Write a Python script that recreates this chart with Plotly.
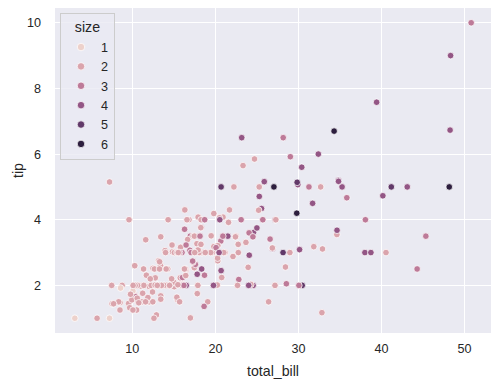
import numpy as np
import plotly.graph_objects as go

total_bill = [16.99,10.34,21.01,23.68,24.59,25.29,8.77,26.88,15.04,14.78,10.27,35.26,15.42,18.43,14.83,21.58,10.33,16.29,16.97,20.65,
17.92,20.29,15.77,39.42,19.82,17.81,13.37,12.69,21.70,19.65,9.55,18.35,15.06,20.69,17.78,24.06,16.31,16.93,18.69,31.27,
16.04,17.46,13.94,9.68,30.40,18.29,22.23,32.40,28.55,18.04,12.54,10.29,34.81,9.94,25.56,19.49,38.01,26.41,11.24,48.27,
20.29,13.81,11.02,18.29,17.59,20.08,16.45,3.07,20.23,15.01,12.02,17.07,26.86,25.28,14.73,10.51,17.92,27.20,22.76,17.29,
19.44,16.66,10.07,32.68,15.98,34.83,13.03,18.28,24.71,21.16,28.97,22.49,5.75,16.32,22.75,40.17,27.28,12.03,21.01,12.46,
11.35,15.38,44.30,22.42,20.92,15.36,20.49,25.21,18.24,14.31,14.00,7.25,38.07,23.95,25.71,17.31,29.93,10.65,12.43,24.08,
11.69,13.42,14.26,15.95,12.48,29.80,8.52,14.52,11.38,22.82,19.08,20.27,11.17,12.26,18.26,8.51,10.33,14.15,16.00,13.16,
17.47,34.30,41.19,27.05,16.43,8.35,18.64,11.87,9.78,7.51,14.07,13.13,17.26,24.55,19.77,29.85,48.17,25.00,13.39,16.49,
21.50,12.66,16.21,13.81,17.51,24.52,20.76,31.71,10.59,10.63,50.81,15.81,7.25,31.85,16.82,32.90,17.89,14.48,9.60,34.63,
34.65,23.33,45.35,23.17,40.55,20.69,20.90,30.46,18.15,23.10,15.69,19.81,28.44,15.48,16.58,7.56,10.34,43.11,13.00,13.51,
18.71,12.74,13.00,16.40,20.53,16.47,26.59,38.73,24.27,12.76,30.06,25.89,48.33,13.27,28.17,12.90,28.15,11.59,7.74,30.14,
12.16,13.42,8.58,15.98,13.42,16.27,10.09,20.45,13.28,22.12,24.01,15.69,11.61,10.77,15.53,10.07,12.60,32.83,35.83,29.03,
27.18,22.67,17.82,18.78]

tip = [1.01,1.66,3.50,3.31,3.61,4.71,2.00,3.12,1.96,3.23,1.71,5.00,1.57,3.00,3.02,3.92,1.67,3.71,3.50,3.35,
4.08,2.75,2.23,7.58,3.18,2.34,2.00,2.00,4.30,3.00,1.45,2.50,3.00,2.45,3.27,3.60,2.00,3.07,2.31,5.00,
2.24,2.54,3.06,1.32,5.60,3.00,5.00,6.00,2.05,3.00,2.50,2.60,5.20,1.56,4.34,3.51,3.00,1.50,1.76,6.73,
3.21,2.00,1.98,3.76,2.64,3.15,2.47,1.00,2.01,2.09,1.97,3.00,3.14,5.00,2.20,1.25,3.08,4.00,3.00,2.71,
3.00,3.40,1.83,5.00,2.03,5.17,2.00,4.00,5.85,3.00,3.00,3.50,1.00,4.30,3.25,4.73,4.00,1.50,3.00,1.50,
2.50,3.00,2.50,3.48,4.08,1.64,4.06,4.29,3.76,4.00,3.00,1.00,4.00,2.55,4.00,3.50,5.07,1.50,1.80,2.92,
2.31,1.68,2.50,2.00,2.52,4.20,1.48,2.00,2.00,2.18,1.50,2.83,1.50,2.00,3.25,1.25,2.00,2.00,2.00,2.75,
3.50,6.70,5.00,5.00,2.30,1.50,1.36,1.63,1.73,2.00,2.50,2.00,2.74,2.00,2.00,5.14,5.00,3.75,2.61,2.00,
3.50,2.50,2.00,2.00,3.00,3.48,2.24,4.50,1.61,2.00,10.00,3.16,5.15,3.18,4.00,3.11,2.00,2.00,4.00,3.55,
3.68,5.65,3.50,6.50,3.00,5.00,3.50,2.00,3.50,4.00,1.50,4.19,2.56,2.02,4.00,1.44,2.00,5.00,2.00,2.00,
4.00,2.01,2.00,2.50,4.00,3.23,3.41,3.00,2.03,2.23,2.00,5.16,9.00,2.50,6.50,1.10,3.00,1.50,1.44,3.09,
2.20,3.48,1.92,3.00,1.58,2.50,2.00,3.00,2.72,2.88,2.00,3.00,3.39,1.47,3.00,1.25,1.00,1.17,4.67,5.92,
2.00,2.00,1.75,3.00]

size = [2,3,3,2,4,4,2,4,2,2,2,4,2,4,2,2,3,3,3,3,
2,2,2,4,2,4,2,2,2,2,2,4,2,4,2,3,3,3,3,3,
3,2,2,2,4,2,2,4,3,2,2,2,4,2,4,2,4,2,2,4,
2,2,2,4,3,3,2,1,2,2,2,3,2,2,2,2,2,4,2,2,
2,2,1,2,2,4,2,2,2,2,2,2,2,2,2,4,2,2,2,2,
2,2,3,2,2,2,2,2,2,2,2,1,3,2,3,2,4,2,2,4,
2,2,2,2,2,6,2,2,2,3,2,2,2,2,2,2,2,2,2,2,
2,6,5,6,2,2,3,2,2,2,2,2,3,4,4,5,6,4,2,4,
4,2,3,2,2,3,2,4,2,2,3,2,2,2,2,2,2,2,2,2,
4,2,3,4,2,5,3,5,3,3,2,2,2,2,2,2,2,4,2,2,
3,2,2,2,4,3,3,4,2,2,3,4,4,2,3,2,5,2,2,4,
2,2,1,3,2,2,2,4,2,2,4,3,2,2,2,2,2,2,3,3,
2,2,2,2]

size_levels = [1, 2, 3, 4, 5, 6]
x_ticks = [10, 20, 30, 40, 50]
y_ticks = [2, 4, 6, 8, 10]


def cubehelix_color(v, vmin=1, vmax=6, light=0.85, dark=0.15,
                    start=0.0, rot=0.4, gamma=1.0, hue=0.8):
    t = (v - vmin) / (vmax - vmin)
    lam = light + (dark - light) * t
    xg = lam ** gamma
    a = hue * xg * (1 - xg) / 2
    phi = 2 * np.pi * (start / 3 + rot * lam)
    r = xg + a * (-0.14861 * np.cos(phi) + 1.78277 * np.sin(phi))
    g = xg + a * (-0.29227 * np.cos(phi) - 0.90649 * np.sin(phi))
    b = xg + a * (1.97294 * np.cos(phi))
    c = [int(round(min(max(k, 0), 1) * 255)) for k in (r, g, b)]
    return "rgb({},{},{})".format(*c)


FONT = "Arial, Liberation Sans, sans-serif"
TXT = "#262626"
TICK_SIZE = 12.6
LABEL_SIZE = 14.2

fig = go.Figure()
fig.add_trace(go.Scatter(
    x=total_bill, y=tip, mode="markers", showlegend=False,
    marker=dict(size=6.6, color=[cubehelix_color(s) for s in size],
                line=dict(color="white", width=0.75)),
    hoverinfo="x+y"))

for lv in size_levels:
    fig.add_trace(go.Scatter(
        x=[None], y=[None], mode="markers", name=str(lv),
        marker=dict(size=7.5, color=cubehelix_color(lv),
                    line=dict(color="white", width=0.75))))

# page body adds an 8px offset; figure sized to fill the remaining window
fig.update_layout(
    width=491, height=377,
    margin=dict(l=47, r=8, t=0, b=52),
    paper_bgcolor="white", plot_bgcolor="#EAEAF2",
    font=dict(family=FONT, color=TXT, size=12),
    legend=dict(
        title=dict(text="size", font=dict(size=LABEL_SIZE, color=TXT), side="top center"),
        x=0.0115, y=0.985, xanchor="left", yanchor="top",
        bgcolor="rgba(234,234,242,0.8)", bordercolor="#CCCCCC", borderwidth=1,
        font=dict(size=TICK_SIZE, color=TXT), itemwidth=30, tracegroupgap=0,
    ),
)
fig.update_xaxes(
    range=[0.683, 53.197], tickvals=x_ticks, showgrid=True, gridcolor="white",
    gridwidth=1.1, zeroline=False, showline=False, ticks="", automargin=False,
    tickfont=dict(size=TICK_SIZE, color=TXT), ticklabelstandoff=6,
    title=dict(text="total_bill", font=dict(size=LABEL_SIZE, color=TXT), standoff=11),
)
fig.update_yaxes(
    range=[0.55, 10.45], tickvals=y_ticks, showgrid=True, gridcolor="white",
    gridwidth=1.1, zeroline=False, showline=False, ticks="", automargin=False,
    tickfont=dict(size=TICK_SIZE, color=TXT), ticklabelstandoff=13,
    title=dict(text="tip", font=dict(size=LABEL_SIZE, color=TXT), standoff=0),
)

fig.write_html("out.html")
